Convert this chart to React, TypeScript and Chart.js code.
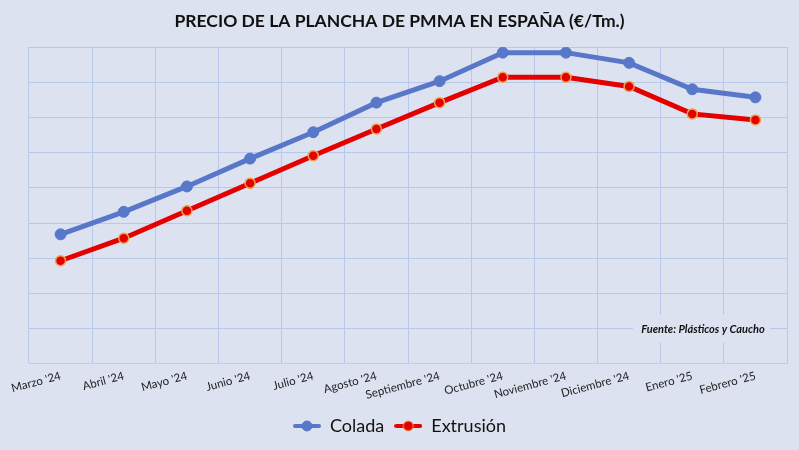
import { useEffect, useRef } from "react";
import { Chart, registerables } from "chart.js";

Chart.register(...registerables);

const months = [
  "Marzo '24",
  "Abril '24",
  "Mayo '24",
  "Junio '24",
  "Julio '24",
  "Agosto '24",
  "Septiembre '24",
  "Octubre '24",
  "Noviembre '24",
  "Diciembre '24",
  "Enero '25",
  "Febrero '25",
];

// valores (eje sin etiquetas, en divisiones de la rejilla)
const colada = [3.68, 4.32, 5.04, 5.83, 6.58, 7.42, 8.03, 8.84, 8.84, 8.55, 7.8, 7.57];
const extrusion = [2.93, 3.57, 4.35, 5.13, 5.91, 6.67, 7.42, 8.14, 8.14, 7.88, 7.1, 6.93];

const BG = "#dde2f1";
const FONT = "Lato, 'Open Sans', sans-serif";

function legendIcon(color: string, border: string) {
  const c = document.createElement("canvas");
  c.width = 28;
  c.height = 12;
  const ctx = c.getContext("2d");
  if (ctx) {
    ctx.strokeStyle = color;
    ctx.lineWidth = 4;
    ctx.lineCap = "round";
    ctx.beginPath();
    ctx.moveTo(2, 6);
    ctx.lineTo(26, 6);
    ctx.stroke();
    ctx.fillStyle = color;
    ctx.strokeStyle = border;
    ctx.lineWidth = 1;
    ctx.beginPath();
    ctx.arc(14, 6, 5, 0, Math.PI * 2);
    ctx.fill();
    ctx.stroke();
  }
  return c;
}

const fuentePlugin = {
  id: "fuente",
  beforeDatasetsDraw(chart: Chart) {
    const { ctx, chartArea } = chart;
    const y = chart.scales.y.getPixelForValue(1);
    ctx.save();
    ctx.fillStyle = BG;
    ctx.fillRect(chartArea.right - 154, y - 14, 137, 28);
    ctx.font = `italic bold 11px ${FONT}`;
    ctx.fillStyle = "#111";
    ctx.textAlign = "center";
    ctx.textBaseline = "middle";
    ctx.fillText("Fuente: Plásticos y Caucho", chartArea.right - 84, y + 1);
    ctx.restore();
  },
};

const App = () => {
  const canvasRef = useRef<HTMLCanvasElement | null>(null);

  useEffect(() => {
    document.body.style.margin = "0";
    let chart: Chart | null = null;
    if (canvasRef.current) {
      chart = new Chart(canvasRef.current, {
        type: "line",
        data: {
          labels: months,
          datasets: [
            {
              label: "Colada",
              data: colada,
              borderColor: "#5877c8",
              backgroundColor: "#5877c8",
              borderWidth: 5,
              pointRadius: 5.5,
              pointBorderWidth: 1,
              pointBorderColor: "#5877c8",
              pointStyle: "circle",
              tension: 0,
            },
            {
              label: "Extrusión",
              data: extrusion,
              borderColor: "#e50000",
              backgroundColor: "#e50000",
              borderWidth: 5,
              pointRadius: 5,
              pointBorderWidth: 1.5,
              pointBorderColor: "#eca24a",
              pointStyle: "circle",
              tension: 0,
            },
          ],
        },
        options: {
          responsive: true,
          maintainAspectRatio: false,
          animation: false,
          layout: { padding: { left: 12, right: 12, bottom: 5 } },
          scales: {
            x: {
              offset: true,
              grid: { offset: true, color: "#b9c8ea", drawTicks: false },
              border: { color: "#c9cdd8" },
              ticks: {
                autoSkip: false,
                minRotation: 15,
                maxRotation: 15,
                padding: 5,
                color: "#222",
                font: { family: FONT, size: 11.5 },
              },
            },
            y: {
              min: 0,
              max: 9,
              afterFit: (s) => {
                s.width = 17;
              },
              grid: { color: "#b9c8ea", drawTicks: false },
              border: { display: false },
              ticks: { display: false, stepSize: 1 },
            },
          },
          plugins: {
            title: {
              display: true,
              text: "PRECIO DE LA PLANCHA DE PMMA EN ESPAÑA (€/Tm.)",
              color: "#111",
              font: { family: FONT, size: 17.5, weight: "bold" },
              padding: { top: 11, bottom: 15 },
            },
            legend: {
              position: "bottom",
              labels: {
                usePointStyle: true,
                pointStyleWidth: 28,
                color: "#111",
                font: { family: FONT, size: 18 },
                padding: 10,
                generateLabels: (c: Chart) =>
                  c.data.datasets.map((ds, i) => ({
                    text: ds.label as string,
                    datasetIndex: i,
                    fontColor: "#111",
                    pointStyle: legendIcon(
                      ds.borderColor as string,
                      (ds as any).pointBorderColor as string,
                    ),
                    hidden: false,
                    lineWidth: 0,
                    strokeStyle: "transparent",
                    fillStyle: "transparent",
                  })),
              },
            },
            tooltip: { enabled: false },
          },
        },
        plugins: [fuentePlugin],
      });
    }
    return () => {
      if (chart) {
        chart.destroy();
      }
    };
  }, []);

  return (
    <div style={{ width: 799, height: 450, background: BG, position: "relative" }}>
      <canvas ref={canvasRef}></canvas>
    </div>
  );
};

export default App;
